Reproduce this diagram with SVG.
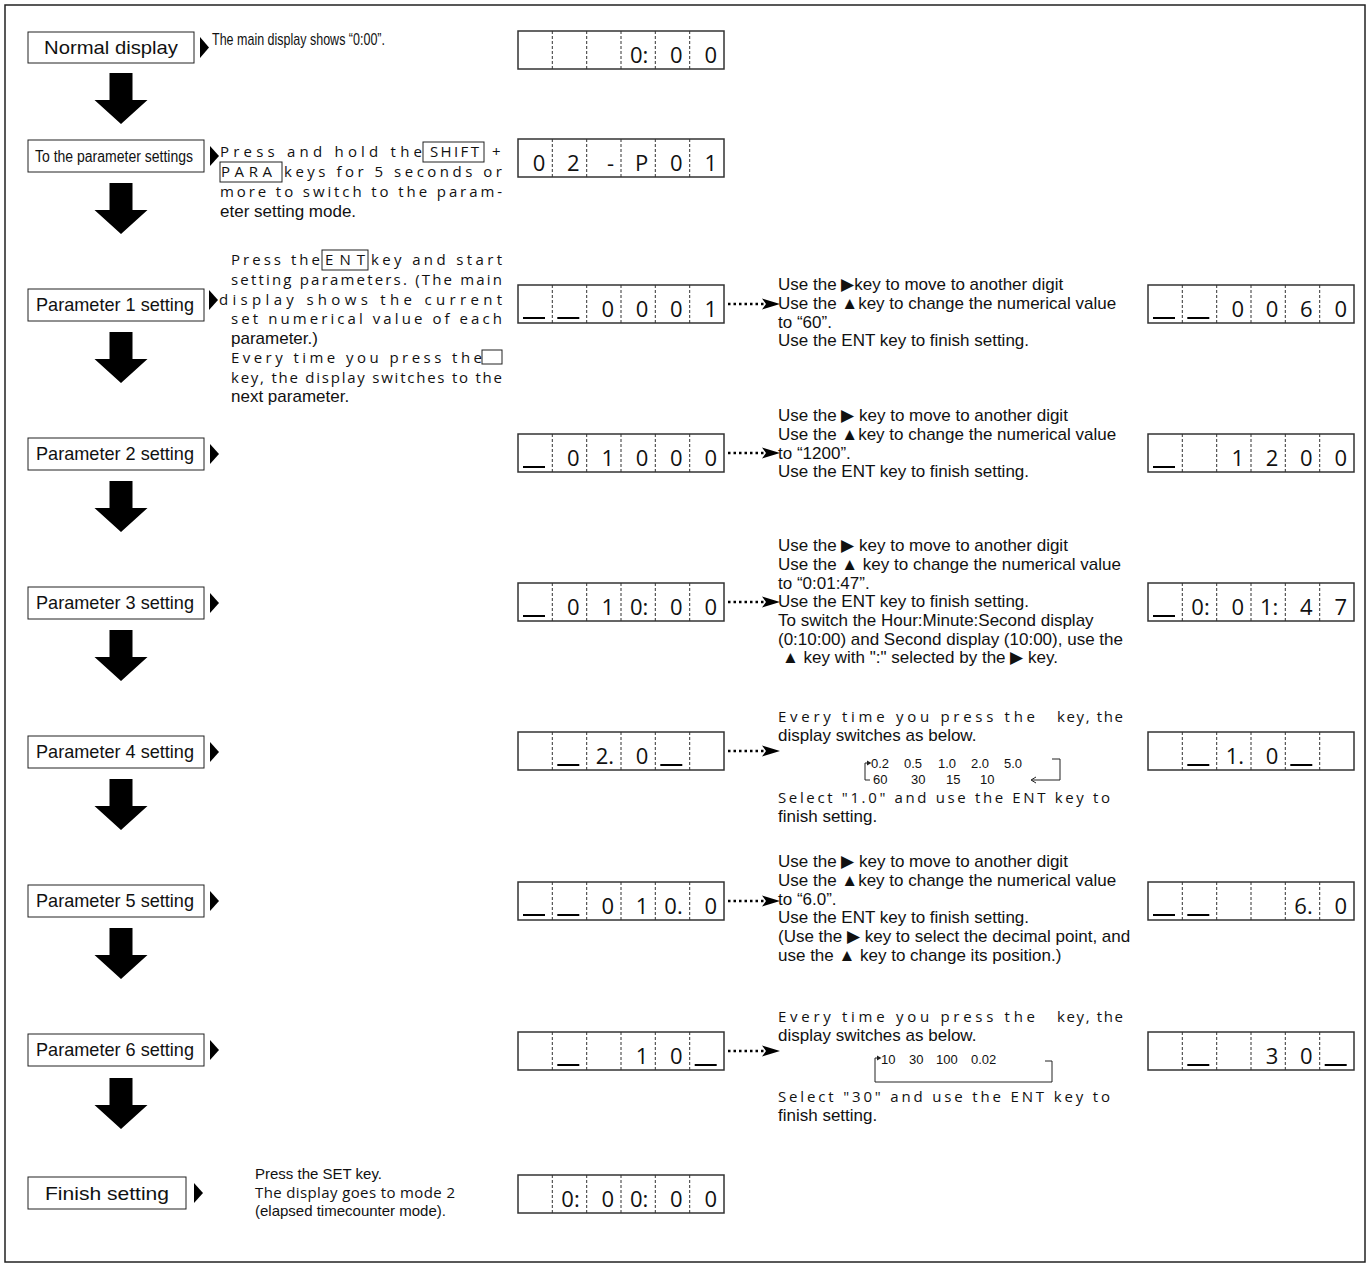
<svg xmlns="http://www.w3.org/2000/svg" xmlns:xlink="http://www.w3.org/1999/xlink" width="1370" height="1267" viewBox="0 0 1370 1267">
<style>
.bg{fill:#fff}
.frame{fill:none;stroke:#222;stroke-width:1.5}
.nbox{fill:#fff;stroke:#222;stroke-width:1}
.nlab{font-family:"Liberation Sans",Arial,sans-serif;font-size:19px;fill:#111;text-anchor:middle}
.nlab2{font-family:"Liberation Sans",Arial,sans-serif;font-size:16px;fill:#111;text-anchor:middle}
.tri{fill:#000}
.dbox{fill:#fff;stroke:#333;stroke-width:1.5}
.ddiv{fill:none;stroke:#333;stroke-width:1;stroke-dasharray:3 2}
.dg{font-family:"Open Sans","Noto Sans",sans-serif;font-size:22px;fill:#111;text-anchor:end}
.us{stroke:#000;stroke-width:2}
.c{font-family:"Liberation Sans",Arial,sans-serif;font-size:17px;fill:#111}
.cf{font-family:"Liberation Sans",Arial,sans-serif;font-size:15px;fill:#111}
.s{font-family:"Open Sans","Noto Sans",sans-serif;font-size:15px;fill:#111}
.sm{font-family:"Liberation Sans",Arial,sans-serif;font-size:13px;fill:#111}
.kbox{fill:none;stroke:#222;stroke-width:1}
.dot{fill:none;stroke:#000;stroke-width:2.5;stroke-dasharray:2.5 3}
.down{fill:#000}
.thin{fill:none;stroke:#222;stroke-width:1}
</style>
<defs>
<g id="d6"><rect class="dbox" x="0" y="0" width="206" height="38"/><path class="ddiv" d="M34.3,0V38M68.7,0V38M103,0V38M137.3,0V38M171.7,0V38"/></g>
<path id="us" class="us" d="M0,33h22"/>
<path id="dn" d="M-11.5,0H11.5V27H26.5L0,51L-26.5,27H-11.5Z"/>
<marker id="ah" markerWidth="18" markerHeight="12" refX="3" refY="6" orient="auto" markerUnits="userSpaceOnUse"><path d="M0,0.5L18,6L0,11.5L4,6Z" fill="#000"/></marker>
</defs>
<rect class="bg" x="0" y="0" width="1370" height="1267"/>
<rect class="frame" x="5" y="5" width="1360" height="1257"/>

<g id="connectors">
<use xlink:href="#dn" x="121" y="73" class="down"/>
<use xlink:href="#dn" x="121" y="183" class="down"/>
<use xlink:href="#dn" x="121" y="332" class="down"/>
<use xlink:href="#dn" x="121" y="481" class="down"/>
<use xlink:href="#dn" x="121" y="630" class="down"/>
<use xlink:href="#dn" x="121" y="779" class="down"/>
<use xlink:href="#dn" x="121" y="928" class="down"/>
<use xlink:href="#dn" x="121" y="1078" class="down"/>
<path class="dot" d="M728,304H765" marker-end="url(#ah)"/>
<path class="dot" d="M728,453H765" marker-end="url(#ah)"/>
<path class="dot" d="M728,602H765" marker-end="url(#ah)"/>
<path class="dot" d="M728,751H765" marker-end="url(#ah)"/>
<path class="dot" d="M728,901H765" marker-end="url(#ah)"/>
<path class="dot" d="M728,1051H765" marker-end="url(#ah)"/>
</g>

<g id="node-normal">
<rect class="nbox" x="28" y="32" width="166" height="31"/>
<text class="nlab" x="111" y="54" textLength="134" lengthAdjust="spacingAndGlyphs">Normal display</text>
<path class="tri" d="M200,37L209,47.5L200,58Z"/>
<text class="c" x="212" y="45" font-size="16" textLength="173" lengthAdjust="spacingAndGlyphs">The main display shows “0:00”.</text>
<g transform="translate(518,31)"><use xlink:href="#d6"/><text class="dg" x="130.3" y="32">0:</text><text class="dg" x="164.7" y="32">0</text><text class="dg" x="199" y="32">0</text></g>
</g>

<g id="node-toparam">
<rect class="nbox" x="28" y="140" width="176" height="32"/>
<text class="nlab2" x="114" y="162" textLength="158" lengthAdjust="spacingAndGlyphs">To the parameter settings</text>
<path class="tri" d="M210,146L219,156L210,166Z"/>
<text class="s" x="220" y="157" textLength="202" lengthAdjust="spacing">Press and hold the</text>
<rect class="kbox" x="423" y="142" width="61" height="20"/>
<text class="s" x="430" y="157" textLength="49" lengthAdjust="spacing">SHIFT</text>
<text class="s" x="492" y="157">+</text>
<rect class="kbox" x="220" y="162" width="62" height="20"/>
<text class="s" x="221" y="177" textLength="51" lengthAdjust="spacing">PARA</text>
<text class="s" x="284" y="177" textLength="218" lengthAdjust="spacing">keys for 5 seconds or</text>
<text class="s" x="220" y="197" textLength="282" lengthAdjust="spacing">more to switch to the param-</text>
<text class="c" x="220" y="217">eter setting mode.</text>
<g transform="translate(518,139)"><use xlink:href="#d6"/><text class="dg" x="27.3" y="32">0</text><text class="dg" x="61.7" y="32">2</text><text class="dg" x="96" y="32">-</text><text class="dg" x="130.3" y="32">P</text><text class="dg" x="164.7" y="32">0</text><text class="dg" x="199" y="32">1</text></g>
</g>

<g id="node-p1">
<rect class="nbox" x="28" y="289" width="176" height="32"/>
<text class="nlab" x="115" y="311" font-size="17" textLength="158" lengthAdjust="spacingAndGlyphs">Parameter 1 setting</text>
<path class="tri" d="M209,290L218,300L209,310Z"/>
<text class="s" x="231" y="265" textLength="89" lengthAdjust="spacing">Press the</text>
<rect class="kbox" x="322" y="250" width="46" height="20"/>
<text class="s" x="325" y="265" textLength="40" lengthAdjust="spacing">ENT</text>
<text class="s" x="371" y="265" textLength="131" lengthAdjust="spacing">key and start</text>
<text class="s" x="231" y="285" textLength="271" lengthAdjust="spacing">setting parameters. (The main</text>
<text class="s" x="219" y="304.5" textLength="283" lengthAdjust="spacing">display shows the current</text>
<text class="s" x="231" y="324" textLength="271" lengthAdjust="spacing">set numerical value of each</text>
<text class="c" x="231" y="343.5">parameter.)</text>
<text class="s" x="231" y="363" textLength="251" lengthAdjust="spacing">Every time you press the</text>
<rect class="kbox" x="482" y="350" width="20" height="14"/>
<text class="s" x="231" y="382.5" textLength="271" lengthAdjust="spacing">key, the display switches to the</text>
<text class="c" x="231" y="402">next parameter.</text>
<g transform="translate(518,285)"><use xlink:href="#d6"/><use xlink:href="#us" x="5"/><use xlink:href="#us" x="39.3"/><text class="dg" x="96" y="32">0</text><text class="dg" x="130.3" y="32">0</text><text class="dg" x="164.7" y="32">0</text><text class="dg" x="199" y="32">1</text></g>
<text class="c" x="778" y="290">Use the ▶key to move to another digit</text>
<text class="c" x="778" y="309">Use the ▲key to change the numerical value</text>
<text class="c" x="778" y="327.5">to “60”.</text>
<text class="c" x="778" y="346">Use the ENT key to finish setting.</text>
<g transform="translate(1148,285)"><use xlink:href="#d6"/><use xlink:href="#us" x="5"/><use xlink:href="#us" x="39.3"/><text class="dg" x="96" y="32">0</text><text class="dg" x="130.3" y="32">0</text><text class="dg" x="164.7" y="32">6</text><text class="dg" x="199" y="32">0</text></g>
</g>

<g id="node-p2">
<rect class="nbox" x="28" y="438" width="176" height="32"/>
<text class="nlab" x="115" y="460" font-size="17" textLength="158" lengthAdjust="spacingAndGlyphs">Parameter 2 setting</text>
<path class="tri" d="M210,444L219,454L210,464Z"/>
<g transform="translate(518,434)"><use xlink:href="#d6"/><use xlink:href="#us" x="5"/><text class="dg" x="61.7" y="32">0</text><text class="dg" x="96" y="32">1</text><text class="dg" x="130.3" y="32">0</text><text class="dg" x="164.7" y="32">0</text><text class="dg" x="199" y="32">0</text></g>
<text class="c" x="778" y="421">Use the ▶ key to move to another digit</text>
<text class="c" x="778" y="440">Use the ▲key to change the numerical value</text>
<text class="c" x="778" y="458.5">to “1200”.</text>
<text class="c" x="778" y="477">Use the ENT key to finish setting.</text>
<g transform="translate(1148,434)"><use xlink:href="#d6"/><use xlink:href="#us" x="5"/><text class="dg" x="96" y="32">1</text><text class="dg" x="130.3" y="32">2</text><text class="dg" x="164.7" y="32">0</text><text class="dg" x="199" y="32">0</text></g>
</g>

<g id="node-p3">
<rect class="nbox" x="28" y="587" width="176" height="32"/>
<text class="nlab" x="115" y="609" font-size="17" textLength="158" lengthAdjust="spacingAndGlyphs">Parameter 3 setting</text>
<path class="tri" d="M210,593L219,603L210,613Z"/>
<g transform="translate(518,583)"><use xlink:href="#d6"/><use xlink:href="#us" x="5"/><text class="dg" x="61.7" y="32">0</text><text class="dg" x="96" y="32">1</text><text class="dg" x="130.3" y="32">0:</text><text class="dg" x="164.7" y="32">0</text><text class="dg" x="199" y="32">0</text></g>
<text class="c" x="778" y="551">Use the ▶ key to move to another digit</text>
<text class="c" x="778" y="570">Use the ▲ key to change the numerical value</text>
<text class="c" x="778" y="588.5">to “0:01:47”.</text>
<text class="c" x="778" y="607">Use the ENT key to finish setting.</text>
<text class="c" x="778" y="626">To switch the Hour:Minute:Second display</text>
<text class="c" x="778" y="644.5">(0:10:00) and Second display (10:00), use the</text>
<text class="c" x="782" y="663">▲ key with ":" selected by the  ▶ key.</text>
<g transform="translate(1148,583)"><use xlink:href="#d6"/><use xlink:href="#us" x="5"/><text class="dg" x="61.7" y="32">0:</text><text class="dg" x="96" y="32">0</text><text class="dg" x="130.3" y="32">1:</text><text class="dg" x="164.7" y="32">4</text><text class="dg" x="199" y="32">7</text></g>
</g>

<g id="node-p4">
<rect class="nbox" x="28" y="736" width="176" height="32"/>
<text class="nlab" x="115" y="758" font-size="17" textLength="158" lengthAdjust="spacingAndGlyphs">Parameter 4 setting</text>
<path class="tri" d="M210,742L219,752L210,762Z"/>
<g transform="translate(518,732)"><use xlink:href="#d6"/><use xlink:href="#us" x="39.3"/><text class="dg" x="96" y="32">2.</text><text class="dg" x="130.3" y="32">0</text><use xlink:href="#us" x="142.3"/></g>
<text class="s" x="778" y="722" textLength="257" lengthAdjust="spacing">Every time you press the</text>
<text class="s" x="1057" y="722" textLength="66" lengthAdjust="spacing">key, the</text>
<text class="c" x="778" y="741">display switches as below.</text>
<text class="sm" x="871" y="768">0.2</text><text class="sm" x="904" y="768">0.5</text><text class="sm" x="938" y="768">1.0</text><text class="sm" x="971" y="768">2.0</text><text class="sm" x="1004" y="768">5.0</text>
<text class="sm" x="873" y="784">60</text><text class="sm" x="911" y="784">30</text><text class="sm" x="946" y="784">15</text><text class="sm" x="980" y="784">10</text>
<path class="thin" d="M869,763H865V780H870"/>
<path d="M867,760.5L871.5,763L867,765.5Z" fill="#222"/>
<path class="thin" d="M1052,759H1060V780H1032"/>
<path class="thin" d="M1036,777L1031,780L1036,783"/>
<text class="s" x="778" y="803" textLength="332" lengthAdjust="spacing">Select "1.0" and use the ENT key to</text>
<text class="c" x="778" y="822">finish setting.</text>
<g transform="translate(1148,732)"><use xlink:href="#d6"/><use xlink:href="#us" x="39.3"/><text class="dg" x="96" y="32">1.</text><text class="dg" x="130.3" y="32">0</text><use xlink:href="#us" x="142.3"/></g>
</g>

<g id="node-p5">
<rect class="nbox" x="28" y="885" width="176" height="32"/>
<text class="nlab" x="115" y="907" font-size="17" textLength="158" lengthAdjust="spacingAndGlyphs">Parameter 5 setting</text>
<path class="tri" d="M210,891L219,901L210,911Z"/>
<g transform="translate(518,882)"><use xlink:href="#d6"/><use xlink:href="#us" x="5"/><use xlink:href="#us" x="39.3"/><text class="dg" x="96" y="32">0</text><text class="dg" x="130.3" y="32">1</text><text class="dg" x="164.7" y="32">0.</text><text class="dg" x="199" y="32">0</text></g>
<text class="c" x="778" y="867">Use the ▶ key to move to another digit</text>
<text class="c" x="778" y="886">Use the ▲key to change the numerical value</text>
<text class="c" x="778" y="904.5">to “6.0”.</text>
<text class="c" x="778" y="923">Use the ENT key to finish setting.</text>
<text class="c" x="778" y="942">(Use the ▶ key to select the decimal point, and</text>
<text class="c" x="778" y="960.5">use the ▲ key to change its position.)</text>
<g transform="translate(1148,882)"><use xlink:href="#d6"/><use xlink:href="#us" x="5"/><use xlink:href="#us" x="39.3"/><text class="dg" x="164.7" y="32">6.</text><text class="dg" x="199" y="32">0</text></g>
</g>

<g id="node-p6">
<rect class="nbox" x="28" y="1034" width="176" height="32"/>
<text class="nlab" x="115" y="1056" font-size="17" textLength="158" lengthAdjust="spacingAndGlyphs">Parameter 6 setting</text>
<path class="tri" d="M210,1040L219,1050L210,1060Z"/>
<g transform="translate(518,1032)"><use xlink:href="#d6"/><use xlink:href="#us" x="39.3"/><text class="dg" x="130.3" y="32">1</text><text class="dg" x="164.7" y="32">0</text><use xlink:href="#us" x="176.7"/></g>
<text class="s" x="778" y="1022" textLength="257" lengthAdjust="spacing">Every time you press the</text>
<text class="s" x="1057" y="1022" textLength="66" lengthAdjust="spacing">key, the</text>
<text class="c" x="778" y="1041">display switches as below.</text>
<text class="sm" x="881" y="1064">10</text><text class="sm" x="909" y="1064">30</text><text class="sm" x="936" y="1064">100</text><text class="sm" x="971" y="1064">0.02</text>
<path class="thin" d="M879,1058H875V1082H1052V1061H1045"/>
<path d="M877,1055.5L881.5,1058L877,1060.5Z" fill="#222"/>
<text class="s" x="778" y="1102" textLength="332" lengthAdjust="spacing">Select "30" and use the ENT key to</text>
<text class="c" x="778" y="1121">finish setting.</text>
<g transform="translate(1148,1032)"><use xlink:href="#d6"/><use xlink:href="#us" x="39.3"/><text class="dg" x="130.3" y="32">3</text><text class="dg" x="164.7" y="32">0</text><use xlink:href="#us" x="176.7"/></g>
</g>

<g id="node-finish">
<rect class="nbox" x="28" y="1177" width="158" height="32"/>
<text class="nlab" x="107" y="1200" textLength="124" lengthAdjust="spacingAndGlyphs">Finish setting</text>
<path class="tri" d="M194,1183L203,1193L194,1203Z"/>
<text class="cf" x="255" y="1179">Press the SET key.</text>
<text class="s" x="255" y="1197.5" textLength="200" lengthAdjust="spacing">The display goes to mode 2</text>
<text class="cf" x="255" y="1216">(elapsed timecounter mode).</text>
<g transform="translate(518,1175)"><use xlink:href="#d6"/><text class="dg" x="61.7" y="32">0:</text><text class="dg" x="96" y="32">0</text><text class="dg" x="130.3" y="32">0:</text><text class="dg" x="164.7" y="32">0</text><text class="dg" x="199" y="32">0</text></g>
</g>
</svg>
